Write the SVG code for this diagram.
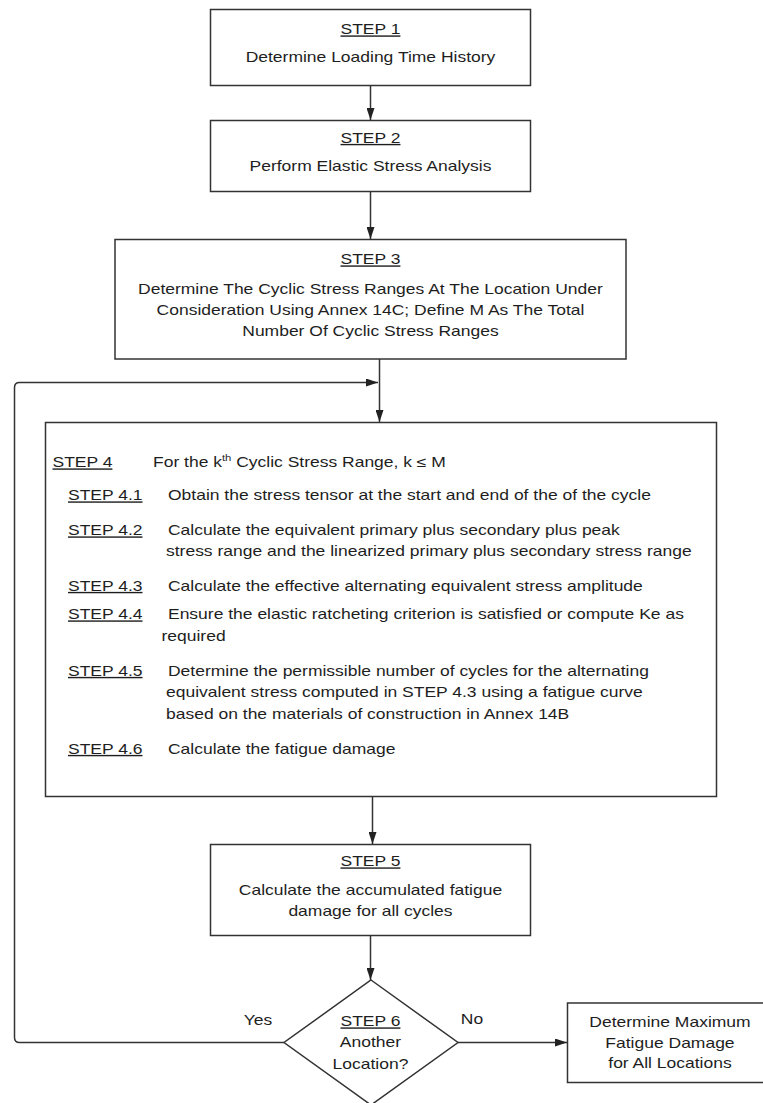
<svg xmlns="http://www.w3.org/2000/svg" width="763" height="1103" viewBox="0 0 763 1103">
<style>
.box{fill:#fff;stroke:#333;stroke-width:1.5}
.conn{fill:none;stroke:#333;stroke-width:1.5}
.t{font-family:"Liberation Sans",Arial,sans-serif;font-size:14px;fill:#1e1e1e;transform-box:fill-box;transform:scaleX(1.25)}
.c{text-anchor:middle;transform-origin:center}
.l{text-anchor:start;transform-origin:left center}
.u{text-decoration:underline}
.sup{font-size:9px}
</style>
<defs>
<marker id="ah" markerUnits="userSpaceOnUse" markerWidth="12" markerHeight="8" refX="12" refY="4" orient="auto">
<path d="M0,0 L12,4 L0,8 z" fill="#222"/>
</marker>
</defs>
<rect width="763" height="1103" fill="#fff"/>
<g id="connectors">
<line class="conn" x1="370.5" y1="86" x2="370.5" y2="120" marker-end="url(#ah)"/>
<line class="conn" x1="370.5" y1="192" x2="370.5" y2="239" marker-end="url(#ah)"/>
<line class="conn" x1="379.5" y1="359" x2="379.5" y2="422" marker-end="url(#ah)"/>
<path class="conn" d="M284,1042.5 H19.5 Q14.5,1042.5 14.5,1037.5 V387.5 Q14.5,382.5 19.5,382.5 H378" marker-end="url(#ah)"/>
<line class="conn" x1="372.5" y1="797" x2="372.5" y2="844" marker-end="url(#ah)"/>
<line class="conn" x1="370.5" y1="936" x2="370.5" y2="980" marker-end="url(#ah)"/>
<line class="conn" x1="458" y1="1042.5" x2="567" y2="1042.5" marker-end="url(#ah)"/>
</g>
<g id="step1">
<rect class="box" x="210.5" y="9.5" width="320" height="76"/>
<text class="t c u" x="370.5" y="34.5">STEP 1</text>
<text class="t c" x="370.5" y="62">Determine Loading Time History</text>
</g>
<g id="step2">
<rect class="box" x="210.5" y="120.5" width="320" height="71"/>
<text class="t c u" x="370.5" y="143">STEP 2</text>
<text class="t c" x="370.5" y="171.5">Perform Elastic Stress Analysis</text>
</g>
<g id="step3">
<rect class="box" x="115" y="239.5" width="511" height="119.5"/>
<text class="t c u" x="370.5" y="264.5">STEP 3</text>
<text class="t c" x="370.5" y="294.5">Determine The Cyclic Stress Ranges At The Location Under</text>
<text class="t c" x="370.5" y="315">Consideration Using Annex 14C; Define M As The Total</text>
<text class="t c" x="370.5" y="336">Number Of Cyclic Stress Ranges</text>
</g>
<g id="step4">
<rect class="box" x="45.5" y="422.5" width="671" height="374"/>
<text class="t l u" x="52.5" y="467.5">STEP 4</text>
<text class="t l" x="153" y="467.5">For the k<tspan class="sup" dy="-6">th</tspan><tspan dy="6"> Cyclic Stress Range, k ≤ M</tspan></text>
<text class="t l u" x="68" y="500.5">STEP 4.1</text>
<text class="t l" x="168" y="500.5">Obtain the stress tensor at the start and end of the of the cycle</text>
<text class="t l u" x="68" y="535.5">STEP 4.2</text>
<text class="t l" x="168" y="535.5">Calculate the equivalent primary plus secondary plus peak</text>
<text class="t l" x="166" y="556.5">stress range and the linearized primary plus secondary stress range</text>
<text class="t l u" x="68" y="591">STEP 4.3</text>
<text class="t l" x="168" y="591">Calculate the effective alternating equivalent stress amplitude</text>
<text class="t l u" x="68" y="619.5">STEP 4.4</text>
<text class="t l" x="168" y="619.5">Ensure the elastic ratcheting criterion is satisfied or compute Ke as</text>
<text class="t l" x="161.5" y="641.5">required</text>
<text class="t l u" x="68" y="676">STEP 4.5</text>
<text class="t l" x="168" y="676">Determine the permissible number of cycles for the alternating</text>
<text class="t l" x="166" y="697.5">equivalent stress computed in STEP 4.3 using a fatigue curve</text>
<text class="t l" x="166" y="719">based on the materials of construction in Annex 14B</text>
<text class="t l u" x="68" y="754">STEP 4.6</text>
<text class="t l" x="168" y="754">Calculate the fatigue damage</text>
</g>
<g id="step5">
<rect class="box" x="210.5" y="844.5" width="320" height="91"/>
<text class="t c u" x="370.5" y="866.5">STEP 5</text>
<text class="t c" x="370.5" y="895">Calculate the accumulated fatigue</text>
<text class="t c" x="370.5" y="916">damage for all cycles</text>
</g>
<g id="step6">
<polygon class="box" points="371,980 458,1042.5 371,1105 284,1042.5"/>
<text class="t c u" x="370.5" y="1026.5">STEP 6</text>
<text class="t c" x="370.5" y="1047.5">Another</text>
<text class="t c" x="370.5" y="1069">Location?</text>
</g>
<g id="labels">
<text class="t c" x="258" y="1025.5">Yes</text>
<text class="t c" x="472" y="1024">No</text>
</g>
<g id="final">
<rect class="box" x="567.5" y="1003" width="205" height="79.5"/>
<text class="t c" x="670" y="1027.5">Determine Maximum</text>
<text class="t c" x="670" y="1048">Fatigue Damage</text>
<text class="t c" x="670" y="1068">for All Locations</text>
</g>
</svg>
